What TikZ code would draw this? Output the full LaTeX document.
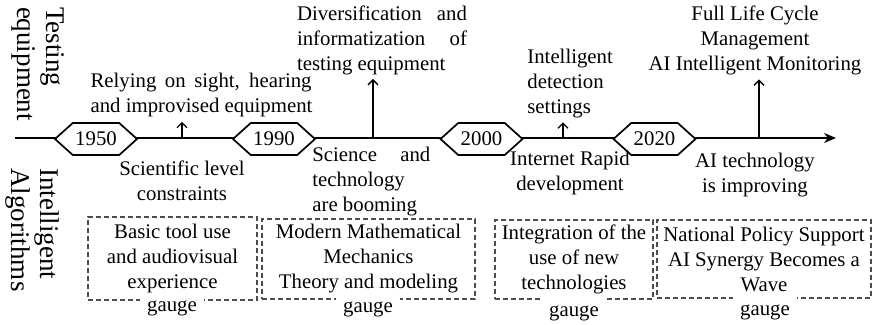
\documentclass[tikz,border=0pt]{standalone}
\usepackage{fontspec}
\setmainfont{Liberation Serif}
\usetikzlibrary{shapes.symbols,arrows.meta}
\tikzstyle{year}=[signal,signal to=east and west,signal pointer angle=84,draw,line width=0.85pt,fill=white,minimum width=41pt,minimum height=16pt,inner sep=0pt,font=\fontsize{10.4}{12.5}\selectfont]
\tikzstyle{note}=[inner sep=0pt,font=\fontsize{10.4}{12.5}\selectfont]
\tikzstyle{side}=[rotate=-90,align=left,inner sep=0pt,font=\fontsize{13.5}{14.5}\selectfont]
\tikzstyle{period}=[draw=black!70,dash pattern=on 2.5pt off 1.5pt,line width=0.55pt,align=center,inner sep=0pt,font=\fontsize{10.4}{12.5}\selectfont]
\tikzstyle{gauge}=[fill=white,minimum width=31pt,inner sep=3.5pt,font=\fontsize{10.4}{12.5}\selectfont]
\tikzstyle{up}=[-{Straight Barb[length=2.5pt,width=5pt]},line width=0.65pt,shorten >=2pt]
\tikzstyle{axis}=[-{Stealth[length=6pt,width=5pt]},line width=1.3pt]
\newcommand{\stretchline}[2]{\makebox[#1][s]{#2}}

\begin{document}
\begin{tikzpicture}[x=0.5pt,y=-0.5pt]
    \useasboundingbox (0,0) rectangle (874,325);
    % row titles
    \node[side] (testing) at (38.5,64)  {Testing\\equipment};
    \node[side] (algos)   at (32.5,230) {Intelligent\\Algorithms};
    % time axis
    \coordinate (axstart) at (15,138);
    \coordinate (axend)   at (836,138);
    \draw[axis] (axstart) -- (axend);
    \coordinate (u1) at (182,138);
    \coordinate (u2) at (373,138);
    \coordinate (u3) at (563,138);
    \coordinate (u4) at (759,138);
    \node[year] (y1950) at (96,139)    {1950};
    \node[year] (y1990) at (274,139)   {1990};
    \node[year] (y2000) at (481.5,139) {2000};
    \node[year] (y2020) at (654.5,139) {2020};
    % testing equipment, above the axis
    \node[note,align=left]   (t1) at (201.5,95.5) {\stretchline{110.5pt}{Relying on sight, hearing}\\and improvised equipment};
    \node[note,align=left]   (t2) at (382,40)     {\stretchline{85pt}{Diversification and}\\\stretchline{85pt}{informatization of}\\testing equipment};
    \node[note,align=left,anchor=west] (t3) at (527,83.5) {Intelligent\\detection\\settings};
    \node[note,align=center] (t4) at (755,40.5)   {Full Life Cycle\\Management\\AI Intelligent Monitoring};
    \draw[up] (u1) -- (u1 |- t1.south);
    \draw[up] (u2) -- (u2 |- t2.south);
    \draw[up] (u3) -- (u3 |- t3.south);
    \draw[up] (u4) -- (u4 |- t4.south);
    % algorithms, below the axis
    \node[note,align=center] (b1) at (182,181)   {Scientific level\\constraints};
    \node[note,align=left,anchor=west] (b2) at (312,182) {\stretchline{59pt}{Science and}\\technology\\are booming};
    \node[note,align=center] (b3) at (570,173.5) {Internet Rapid\\development};
    \node[note,align=center] (b4) at (755,175)   {AI technology\\is improving};
    \node[period,minimum width=84.5pt,minimum height=41.5pt] (p1) at (172.5,258.5) {Basic tool use\\and audiovisual\\experience};
    \node[period,minimum width=106.5pt,minimum height=40pt] (p2) at (368.5,259) {Modern Mathematical\\Mechanics\\Theory and modeling};
    \node[period,minimum width=79pt,minimum height=39.5pt]  (p3) at (574,259.5) {Integration of the\\use of new\\technologies};
    \node[period,minimum width=107pt,minimum height=39pt]   (p4) at (764,259)   {National Policy Support\\AI Synergy Becomes a\\Wave};
    \node[gauge] (g1) at (172,308) {gauge};
    \node[gauge] (g2) at (368,309) {gauge};
    \node[gauge] (g3) at (574,313) {gauge};
    \node[gauge] (g4) at (765,312) {gauge};
\end{tikzpicture}
\end{document}
